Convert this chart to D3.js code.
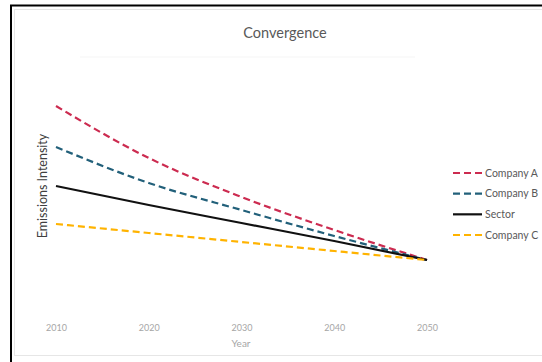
<!DOCTYPE html>
<html><head><meta charset="utf-8">
<script src="https://cdn.jsdelivr.net/npm/d3@7"></script>
<style>html,body{margin:0;padding:0;background:#fff;}svg{display:block;}</style>
</head><body>
<svg id="c" width="542" height="362"></svg>
<script>
const years = [2010, 2020, 2030, 2040, 2050];
const companyA = [81.6, 60.8, 45.2, 32.0, 20];
const companyB = [65.2, 50.8, 40.0, 29.6, 20];
const sector   = [49.6, 42.0, 34.8, 27.6, 20];
const companyC = [34.4, 30.8, 27.2, 23.6, 20];
const seriesNames = ["Company A", "Company B", "Sector", "Company C"];
const tickLabels = ["2010", "2020", "2030", "2040", "2050"];

const series = [
  {name: seriesNames[0], values: companyA, color: "#cc2b50", dash: "7,4"},
  {name: seriesNames[1], values: companyB, color: "#22607a", dash: "7,4"},
  {name: seriesNames[2], values: sector,   color: "#111111", dash: null},
  {name: seriesNames[3], values: companyC, color: "#ffb300", dash: "7,4"}
];

const svg = d3.select("#c");
const font = "Lato, 'Open Sans', sans-serif";

// frame
svg.append("rect").attr("x",14.5).attr("y",9.5).attr("width",540).attr("height",346)
  .attr("fill","none").attr("stroke","#e6e6e6").attr("stroke-width",1);
svg.append("line").attr("x1",11).attr("x2",11).attr("y1",5).attr("y2",362)
  .attr("stroke","#000").attr("stroke-width",2);
svg.append("line").attr("x1",10).attr("x2",542).attr("y1",5.5).attr("y2",5.5)
  .attr("stroke","#000").attr("stroke-width",2);

const x = d3.scaleLinear().domain([2010, 2050]).range([56, 427]);
const y = d3.scaleLinear().domain([0, 100]).range([310, 60]);

// title
svg.append("text").attr("x",285).attr("y",38).attr("text-anchor","middle")
  .attr("font-family",font).attr("font-size",14.5).attr("fill","#595959").text("Convergence");
svg.append("line").attr("x1",80).attr("x2",415).attr("y1",57).attr("y2",57)
  .attr("stroke","#f5f5f5").attr("stroke-width",1);

// x axis labels
const xAxis = d3.axisBottom(x).tickValues(years).tickFormat((d,i)=>tickLabels[i]).tickSize(0);
const gx = svg.append("g").attr("transform","translate(0,322)").call(xAxis);
gx.select(".domain").remove();
gx.selectAll("text").attr("font-family",font).attr("font-size",9).attr("fill","#a6a6a6");

svg.append("text").attr("x",241).attr("y",347).attr("text-anchor","middle")
  .attr("font-family",font).attr("font-size",10).attr("fill","#a6a6a6").text("Year");

// y title
svg.append("text").attr("transform","translate(47,186) rotate(-90)").attr("text-anchor","middle")
  .attr("font-family",font).attr("font-size",12.5).attr("fill","#404040").text("Emissions Intensity");

// lines
const line = d3.line().x((d,i)=>x(years[i])).y(d=>y(d)).curve(d3.curveMonotoneX);
series.forEach(s=>{
  svg.append("path").datum(s.values).attr("d",line).attr("fill","none")
    .attr("stroke",s.color).attr("stroke-width",2.2)
    .attr("stroke-dasharray",s.dash);
});

// legend
const legY = d3.scalePoint().domain(seriesNames).range([173, 235]);
series.forEach(s=>{
  const yy = legY(s.name);
  svg.append("line").attr("x1",453).attr("x2",482).attr("y1",yy).attr("y2",yy)
    .attr("stroke",s.color).attr("stroke-width",2.2).attr("stroke-dasharray",s.dash);
  svg.append("text").attr("x",485).attr("y",yy+3.5).attr("font-family",font)
    .attr("font-size",10.5).attr("fill","#595959").text(s.name);
});
</script>
</body></html>
